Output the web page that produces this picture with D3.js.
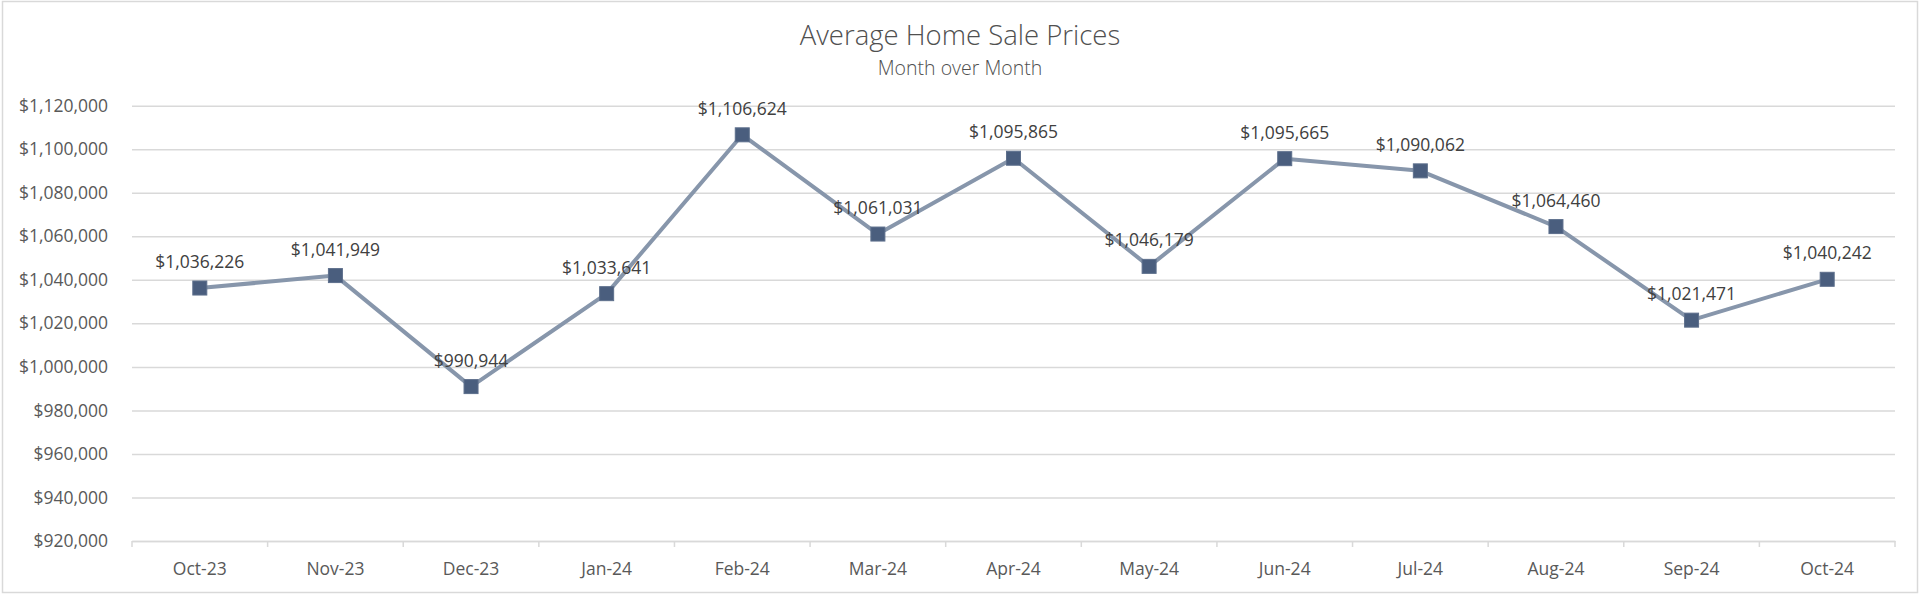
<!DOCTYPE html>
<html>
<head>
<meta charset="utf-8">
<script src="https://cdn.jsdelivr.net/npm/d3@7"></script>
<style>
  html, body { margin: 0; padding: 0; background: #fff; }
  svg { display: block; font-family: 'Open Sans', sans-serif; }
</style>
</head>
<body>
<script>
const months = ['Oct-23', 'Nov-23', 'Dec-23', 'Jan-24', 'Feb-24', 'Mar-24', 'Apr-24',
  'May-24', 'Jun-24', 'Jul-24', 'Aug-24', 'Sep-24', 'Oct-24'];
const avgPrices = [1036226, 1041949, 990944, 1033641, 1106624, 1061031, 1095865,
  1046179, 1095665, 1090062, 1064460, 1021471, 1040242];
const yTicks = [920000, 940000, 960000, 980000, 1000000, 1020000, 1040000,
  1060000, 1080000, 1100000, 1120000];

const width = 1920;
const height = 595;
const plot = { left: 132, right: 1895, top: 105.7, bottom: 541 };

const svg = d3.select('body')
  .append('svg')
  .attr('width', width)
  .attr('height', height);

// chart border
svg.append('rect')
  .attr('x', 2.5).attr('y', 1.5)
  .attr('width', width - 5).attr('height', height - 4)
  .attr('fill', '#fff')
  .attr('stroke', '#d9d9d9')
  .attr('stroke-width', 1.5);

// title
svg.append('text')
  .attr('x', 960).attr('y', 45)
  .attr('text-anchor', 'middle')
  .attr('font-size', 27.5)
  .attr('font-weight', 300)
  .attr('fill', '#505050')
  .text('Average Home Sale Prices');

svg.append('text')
  .attr('x', 960).attr('y', 75)
  .attr('text-anchor', 'middle')
  .attr('font-size', 19.5)
  .attr('font-weight', 300)
  .attr('fill', '#505050')
  .text('Month over Month');

const x = d3.scaleBand()
  .domain(months)
  .range([plot.left, plot.right]);

const y = d3.scaleLinear()
  .domain([920000, 1120000])
  .range([plot.bottom, plot.top]);

const money = d3.format('$,.0f');

// y axis + gridlines
const yAxis = svg.append('g')
  .attr('transform', `translate(${plot.left},0)`)
  .call(d3.axisLeft(y)
    .tickValues(yTicks)
    .tickFormat(money)
    .tickSize(-(plot.right - plot.left))
    .tickPadding(24));

yAxis.select('.domain').remove();
yAxis.selectAll('line')
  .attr('stroke', '#d9d9d9')
  .attr('stroke-width', 1.5);
yAxis.selectAll('text')
  .attr('font-size', 17.5)
  .attr('fill', '#595959')
  .attr('font-family', "'Open Sans', sans-serif");

// x axis
const xAxis = svg.append('g')
  .attr('transform', `translate(0,${plot.bottom})`)
  .call(d3.axisBottom(x).tickSize(0).tickPadding(22));

xAxis.select('.domain')
  .attr('stroke', '#d9d9d9')
  .attr('stroke-width', 1.5);
xAxis.selectAll('text')
  .attr('font-size', 17.5)
  .attr('fill', '#595959')
  .attr('font-family', "'Open Sans', sans-serif");

// tick marks at category boundaries
const bounds = months.map(m => x(m)).concat([x(months[months.length - 1]) + x.bandwidth()]);
xAxis.selectAll('.bound')
  .data(bounds)
  .join('line')
  .attr('class', 'bound')
  .attr('x1', d => d).attr('x2', d => d)
  .attr('y1', 0).attr('y2', 6)
  .attr('stroke', '#d9d9d9')
  .attr('stroke-width', 1.5);

const cx = (d, i) => x(months[i]) + x.bandwidth() / 2;

// line
const line = d3.line()
  .x(cx)
  .y(d => y(d));

svg.append('path')
  .datum(avgPrices)
  .attr('d', line)
  .attr('fill', 'none')
  .attr('stroke', '#8796ab')
  .attr('stroke-width', 4)
  .attr('stroke-linejoin', 'round');

// markers
const markerSize = 14;
svg.append('g')
  .selectAll('rect')
  .data(avgPrices)
  .join('rect')
  .attr('x', (d, i) => cx(d, i) - markerSize / 2)
  .attr('y', d => y(d) - markerSize / 2)
  .attr('width', markerSize)
  .attr('height', markerSize)
  .attr('fill', '#4a5e7e')
  .attr('stroke', '#5d6f8c')
  .attr('stroke-width', 1);

// data labels
svg.append('g')
  .selectAll('text')
  .data(avgPrices)
  .join('text')
  .attr('x', cx)
  .attr('y', d => y(d) - 20)
  .attr('text-anchor', 'middle')
  .attr('font-size', 17.5)
  .attr('fill', '#404040')
  .text(d => money(d));
</script>
</body>
</html>
